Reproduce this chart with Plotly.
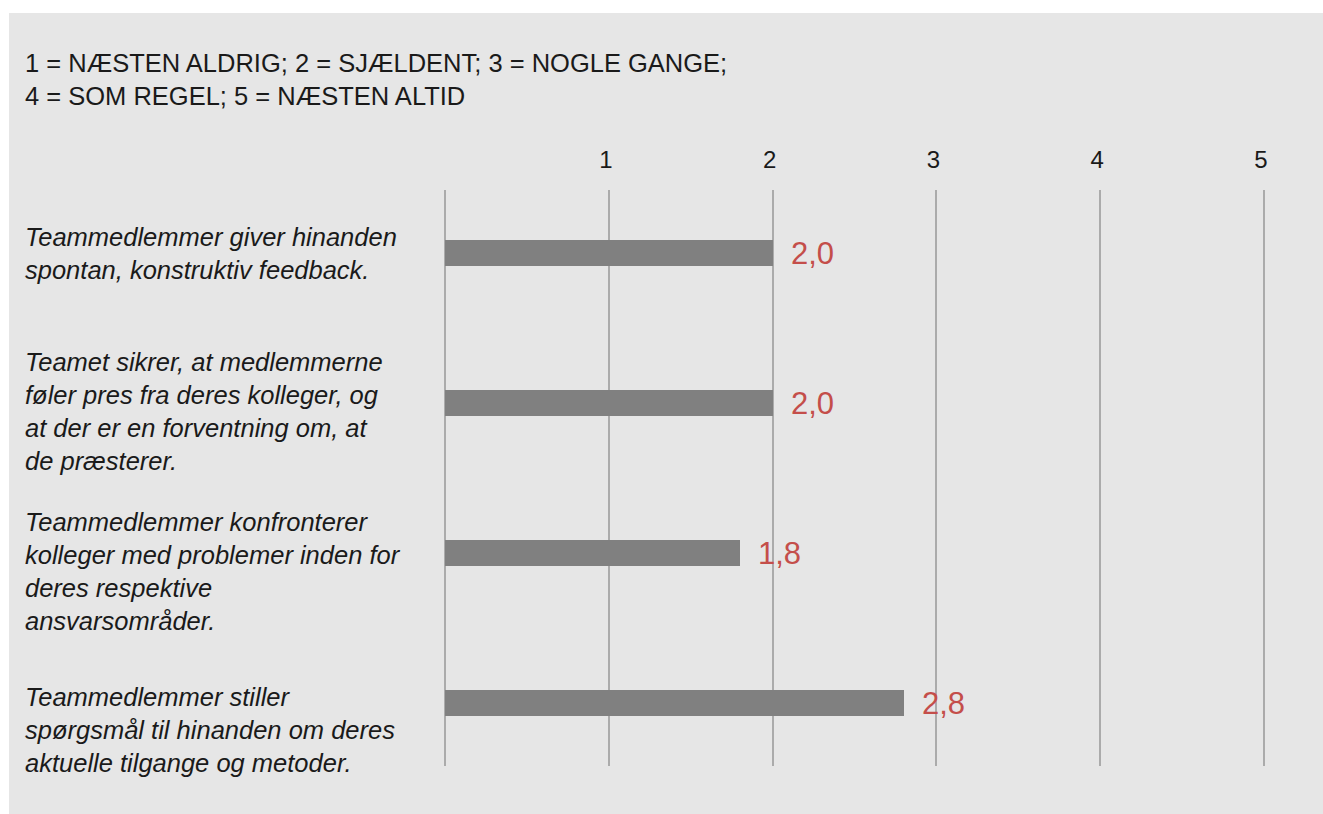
import plotly.graph_objects as go

# ---- data ----
categories = [
    "Teammedlemmer giver hinanden<br>spontan, konstruktiv feedback.",
    "Teamet sikrer, at medlemmerne<br>føler pres fra deres kolleger, og<br>at der er en forventning om, at<br>de præsterer.",
    "Teammedlemmer konfronterer<br>kolleger med problemer inden for<br>deres respektive<br>ansvarsområder.",
    "Teammedlemmer stiller<br>spørgsmål til hinanden om deres<br>aktuelle tilgange og metoder.",
]
values = [2.0, 2.0, 1.8, 2.8]
tick_vals = [0, 1, 2, 3, 4, 5]
tick_text = ["", "1", "2", "3", "4", "5"]
header = "1 = NÆSTEN ALDRIG; 2 = SJÆLDENT; 3 = NOGLE GANGE;<br>4 = SOM REGEL; 5 = NÆSTEN ALTID"

# ---- style ----
FONT = "Liberation Sans, Arial, Helvetica, sans-serif"
label_yshift = [0, -8, -18, -27]
W, H = 1323, 814
ML, MR, MT, MB = 440, 54, 190, 48
PW, PH = W - ML - MR, H - MT - MB
X0PX, X5PX = 445, 1264          # pixel positions of 0 and 5
UNIT = (X5PX - X0PX) / 5.0
x_range = [(ML - X0PX) / UNIT, 5 + (W - MR - X5PX) / UNIT]

cat_ids = list(range(len(categories)))

fig = go.Figure()
fig.add_trace(go.Bar(
    x=values, y=cat_ids, orientation="h", base=0,
    marker=dict(color="#808080", line=dict(width=0)),
    width=0.1733, hoverinfo="skip",
))

annotations = []
for i, (c, v) in enumerate(zip(categories, values)):
    annotations.append(dict(
        x=v, y=i, xref="x", yref="y", text=f"{v:.1f}".replace(".", ","),
        showarrow=False, xanchor="left", yanchor="middle", xshift=16,
        font=dict(family=FONT, size=31, color="#c44e4a"),
    ))
    annotations.append(dict(
        x=0, y=i, xref="paper", yref="y", text=f"<i>{c}</i>",
        showarrow=False, xanchor="left", yanchor="middle", align="left",
        xshift=-(ML - 23), yshift=label_yshift[i],
        font=dict(family=FONT, size=25.5, color="#1a1a1a"),
    ))
annotations.append(dict(
    x=0, y=1, xref="paper", yref="paper", text=header, showarrow=False,
    xanchor="left", yanchor="middle", align="left",
    xshift=-(ML - 23), yshift=MT - 79,
    font=dict(family=FONT, size=25.5, color="#1a1a1a"),
))

# grey panel
shapes = [dict(
    type="rect", xref="paper", yref="paper", layer="below",
    x0=(9 - ML) / PW, x1=(W + 5 - ML) / PW,
    y0=(MT + PH - (H + 5)) / PH, y1=(MT + PH - 13) / PH,
    fillcolor="#e6e6e6", line=dict(width=0),
)]

fig.update_layout(
    width=W, height=H,
    margin=dict(l=ML, r=MR, t=MT, b=MB, pad=0),
    paper_bgcolor="white", plot_bgcolor="rgba(0,0,0,0)",
    showlegend=False, bargap=0,
    annotations=annotations, shapes=shapes,
    font=dict(family=FONT, color="#1a1a1a"),
)
fig.update_xaxes(
    range=x_range, side="top", tickvals=tick_vals, ticktext=tick_text,
    showgrid=True, gridcolor="#ababab", gridwidth=2, zeroline=False,
    showline=False, ticks="", ticklabelstandoff=16, ticklabelshift=-3,
    tickfont=dict(family=FONT, size=24, color="#1a1a1a"), fixedrange=True,
)
fig.update_yaxes(
    range=[3.42, -0.42], showticklabels=False, showgrid=False,
    zeroline=False, showline=False, fixedrange=True,
)

fig.write_html(
    "out.html", config={"displayModeBar": False},
    post_script="document.body.style.margin='0';document.body.style.overflow='hidden';",
)
